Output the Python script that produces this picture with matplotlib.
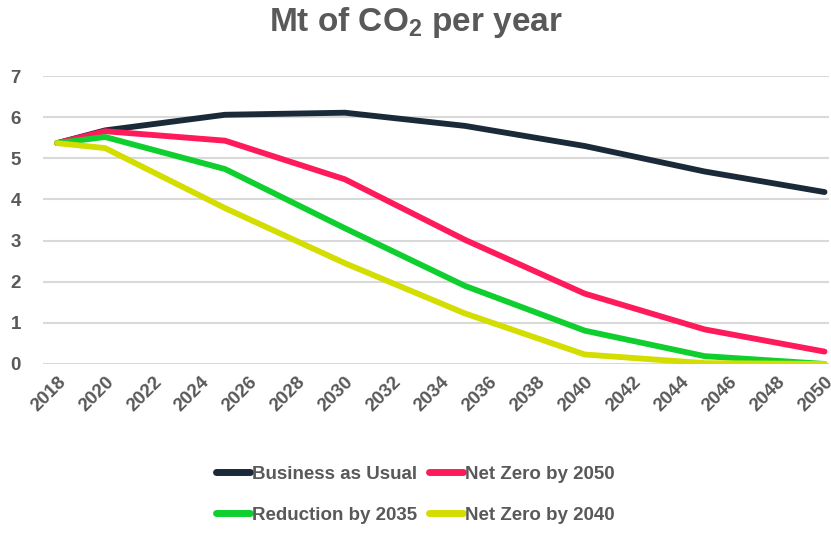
import matplotlib
matplotlib.use('Agg')
import matplotlib.pyplot as plt

plt.rcParams['font.family'] = ['Liberation Sans', 'DejaVu Sans']
plt.rcParams['mathtext.fontset'] = 'custom'
plt.rcParams['mathtext.rm'] = 'Liberation Sans:bold'
plt.rcParams['mathtext.bf'] = 'Liberation Sans:bold'

GREY = '#595959'

years = [2018, 2020, 2025, 2030, 2035, 2040, 2045, 2050]
business_as_usual = [5.37, 5.68, 6.06, 6.11, 5.79, 5.30, 4.68, 4.18]
net_zero_2050 = [5.37, 5.66, 5.43, 4.49, 3.02, 1.71, 0.84, 0.30]
reduction_2035 = [5.37, 5.52, 4.74, 3.30, 1.90, 0.81, 0.19, 0.00]
net_zero_2040 = [5.37, 5.25, 3.79, 2.45, 1.23, 0.23, 0.02, 0.00]
tick_years = list(range(2018, 2051, 2))

fig = plt.figure(figsize=(8.31, 5.36), dpi=100)
ax = fig.add_axes([0.052, 0.321, 0.946, 0.537])

series = [
    (business_as_usual, 'Business as Usual', '#1b2a38'),
    (net_zero_2050, 'Net Zero by 2050', '#ff1a5b'),
    (reduction_2035, 'Reduction by 2035', '#0fcf2f'),
    (net_zero_2040, 'Net Zero by 2040', '#d4dd00'),
]
handles = {}
for vals, label, col in series:
    h, = ax.plot(years, vals, color=col, lw=4.2, label=label,
                 solid_capstyle='round', solid_joinstyle='round', zorder=3)
    handles[label] = h

ax.set_xlim(2017.42, 2050.2)
ax.set_ylim(0, 7)
ax.set_yticks(range(0, 8))
ax.set_xticks(tick_years)
ax.set_xticklabels([str(y) for y in tick_years], rotation=45, ha='right',
                   va='top', rotation_mode='anchor')
ax.grid(axis='y', color='#d9d9d9', lw=1.5, zorder=0)
ax.tick_params(length=0, colors=GREY, labelsize=13.5)
ax.tick_params(axis='y', pad=16)
ax.tick_params(axis='x', pad=7)
for lbl in ax.get_xticklabels() + ax.get_yticklabels():
    lbl.set_fontweight('bold')
for s in ax.spines.values():
    s.set_visible(False)

fig.text(0.5, 0.958, r'Mt of $\mathbf{CO_2}$ per year', ha='center', va='center',
         fontsize=24, fontweight='bold', color=GREY)

# legend fills column-wise, so order handles to get two rows
order = ['Business as Usual', 'Reduction by 2035', 'Net Zero by 2050', 'Net Zero by 2040']
leg = fig.legend(handles=[handles[k] for k in order], loc='center',
                 bbox_to_anchor=(0.5, 0.077), ncol=2, frameon=False,
                 handlelength=1.8, handletextpad=0.15, columnspacing=0.6,
                 labelspacing=1.3, prop={'weight': 'bold', 'size': 13.5})
for t in leg.get_texts():
    t.set_color(GREY)
for l in leg.get_lines():
    l.set_linewidth(5)
    l.set_solid_capstyle('round')

fig.savefig('out.png', dpi=100, facecolor='white')
